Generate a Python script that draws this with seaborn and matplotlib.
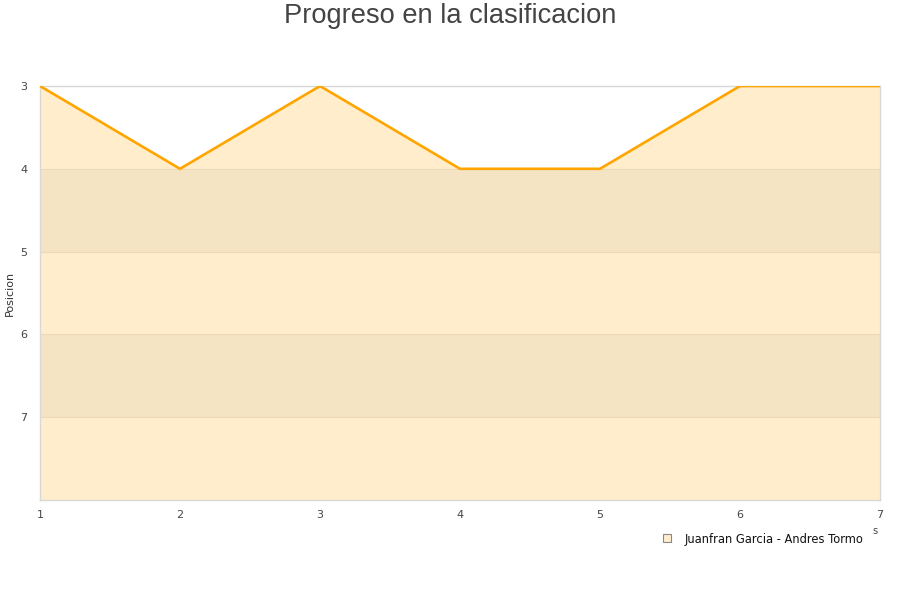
import matplotlib
matplotlib.use("Agg")
import matplotlib.pyplot as plt
import seaborn as sns
import pandas as pd
from matplotlib.lines import Line2D

# data
jornadas = [1, 2, 3, 4, 5, 6, 7]
posiciones = [3, 4, 3, 4, 4, 3, 3]
equipo = "Juanfran Garcia - Andres Tormo"
y_ticks = [3, 4, 5, 6, 7]

df = pd.DataFrame({"jornada": jornadas, "posicion": posiciones})

sns.set_style("white")
plt.rcParams['font.family'] = ['DejaVu Sans']

fig = plt.figure(figsize=(9, 6), dpi=100)
ax = fig.add_axes([40/900, 1-500/600, 840/900, 414/600])

# fill under the line (down to the bottom of the inverted axis)
ax.fill_between(df["jornada"], df["posicion"], 8, color="#FFEDCC", zorder=1, linewidth=0)

# alternating bands
for lo in [4, 6]:
    ax.axhspan(lo, lo+1, color="#F5E4C4", zorder=2, linewidth=0)
for t in [4, 5, 6, 7]:
    ax.axhline(t, color="#EBD9B8", lw=0.8, zorder=2.5)

sns.lineplot(data=df, x="jornada", y="posicion", color="#FFA500", linewidth=1.9, ax=ax, zorder=3)

ax.set_xlim(1, 7)
ax.set_ylim(8, 3)
ax.set_yticks(y_ticks)
ax.set_xticks(jornadas)
ax.tick_params(length=0, labelsize=8, labelcolor="#444444")
ax.tick_params(axis="x", pad=7)
ax.tick_params(axis="y", pad=9)
ax.set_xlabel("")
ax.set_ylabel("Posicion", fontsize=8, color="#333333")
ax.yaxis.set_label_coords(-25/840, 0.5)
for s in ax.spines.values():
    s.set_color("#D8D8D8")
    s.set_linewidth(1)

fig.text(0.5, 1-16/600, "Progreso en la clasificacion", ha="center", va="center",
         fontsize=19.6, color="#444444", family=["Liberation Sans", "DejaVu Sans"])

handle = Line2D([], [], marker="s", linestyle="none", markersize=6,
                markerfacecolor="#FFEDCC", markeredgecolor="#888888", markeredgewidth=0.8)
fig.legend([handle], [equipo], loc="center right", bbox_to_anchor=(869/900, 1-539/600),
           frameon=False, fontsize=8.3, handletextpad=0.5, borderpad=0,
           labelcolor="#111111")

fig.text(875/900, 1-531/600, "s", ha="center", va="center", fontsize=7, color="#444444")

fig.savefig("out.png", dpi=100)
